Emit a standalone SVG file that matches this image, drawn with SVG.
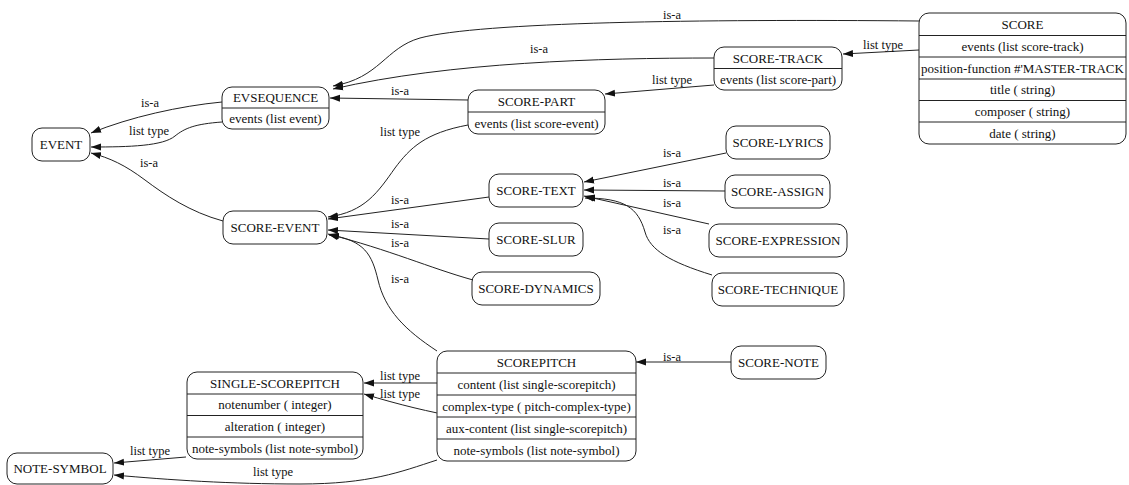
<svg xmlns="http://www.w3.org/2000/svg" width="1129" height="485" viewBox="0 0 1129 485">
  <style>
    .box { fill: #fff; stroke: #222; stroke-width: 1; }
    .sep { stroke: #222; stroke-width: 1; }
    .t { font-family: "Liberation Serif", "Times New Roman", serif; font-size: 13px; fill: #111; text-anchor: middle; }
    .lbl { font-family: "Liberation Serif", "Times New Roman", serif; font-size: 12.5px; fill: #111; text-anchor: middle; }
    .e { fill: none; stroke: #222; stroke-width: 1; marker-end: url(#arrow); }
  </style>
  <defs>
    <marker id="arrow" markerUnits="userSpaceOnUse" markerWidth="10" markerHeight="8" refX="10" refY="4" orient="auto">
      <path d="M0,0.5 L10,4 L0,7.5 z" fill="#111"/>
    </marker>
  </defs>
  <rect width="1129" height="485" fill="#fff"/>

  <!-- connectors -->
  <g id="edges">
    <path class="e" d="M919,21 C700,19 480,22 420,38 C385,48 380,78 333,86"/>
    <text class="lbl" x="672" y="19">is-a</text>

    <path class="e" d="M714,58 C600,58 450,62 333,89"/>
    <text class="lbl" x="539" y="53">is-a</text>

    <path class="e" d="M919,50 L843,54"/>
    <text class="lbl" x="883" y="49">list type</text>

    <path class="e" d="M714,85 L605,94"/>
    <text class="lbl" x="672" y="84">list type</text>

    <path class="e" d="M468,100 L330,98"/>
    <text class="lbl" x="400" y="95">is-a</text>

    <path class="e" d="M222,102 C180,106 130,117 91,133"/>
    <text class="lbl" x="150" y="107">is-a</text>

    <path class="e" d="M222,122 C195,124 185,128 175,136 C163,146 130,147 91,147"/>
    <text class="lbl" x="149" y="135">list type</text>

    <path class="e" d="M223,221 C190,212 165,195 145,180 C125,165 110,158 91,153"/>
    <text class="lbl" x="149" y="167">is-a</text>

    <path class="e" d="M468,125 C425,133 410,148 395,168 C378,192 365,212 328,217"/>
    <text class="lbl" x="400" y="136">list type</text>

    <path class="e" d="M489,197 L328,219"/>
    <text class="lbl" x="400" y="204">is-a</text>

    <path class="e" d="M489,239 L328,230"/>
    <text class="lbl" x="400" y="228">is-a</text>

    <path class="e" d="M473,280 C430,268 390,250 328,234"/>
    <text class="lbl" x="400" y="247">is-a</text>

    <path class="e" d="M437,351 C405,330 385,310 378,280 C372,255 365,240 329,235"/>
    <text class="lbl" x="400" y="283">is-a</text>

    <path class="e" d="M726,153 L584,182"/>
    <text class="lbl" x="672" y="157">is-a</text>

    <path class="e" d="M725,191 L584,190"/>
    <text class="lbl" x="672" y="187">is-a</text>

    <path class="e" d="M709,224 L584,196"/>
    <text class="lbl" x="672" y="207">is-a</text>

    <path class="e" d="M712,275 C670,262 650,250 645,232 C638,208 625,198 585,198"/>
    <text class="lbl" x="672" y="234">is-a</text>

    <path class="e" d="M731,362 L636,362"/>
    <text class="lbl" x="672" y="361">is-a</text>

    <path class="e" d="M437,383 L364,383"/>
    <text class="lbl" x="400" y="380">list type</text>

    <path class="e" d="M458,417 C430,412 400,405 364,394"/>
    <text class="lbl" x="400" y="398">list type</text>

    <path class="e" d="M186,457 L114,463"/>
    <text class="lbl" x="150" y="455">list type</text>

    <path class="e" d="M437,460 C400,472 370,484 300,484 C230,484 170,480 114,475"/>
    <text class="lbl" x="273" y="476">list type</text>
  </g>

  <!-- nodes -->
  <g id="SCORE">
    <rect class="box" x="919" y="13" width="207" height="131" rx="10"/>
    <line class="sep" x1="919" y1="35.5" x2="1126" y2="35.5"/>
    <line class="sep" x1="919" y1="57" x2="1126" y2="57"/>
    <line class="sep" x1="919" y1="79" x2="1126" y2="79"/>
    <line class="sep" x1="919" y1="100.5" x2="1126" y2="100.5"/>
    <line class="sep" x1="919" y1="122" x2="1126" y2="122"/>
    <text class="t" x="1022.5" y="29">SCORE</text>
    <text class="t" x="1022.5" y="51">events (list score-track)</text>
    <text class="t" x="1022.5" y="72.5">position-function #'MASTER-TRACK</text>
    <text class="t" x="1022.5" y="94">title ( string)</text>
    <text class="t" x="1022.5" y="116">composer ( string)</text>
    <text class="t" x="1022.5" y="137.5">date ( string)</text>
  </g>

  <g id="SCORE-TRACK">
    <rect class="box" x="714" y="47" width="128" height="43" rx="10"/>
    <line class="sep" x1="714" y1="68.5" x2="842" y2="68.5"/>
    <text class="t" x="778" y="62.5">SCORE-TRACK</text>
    <text class="t" x="778" y="84">events (list score-part)</text>
  </g>

  <g id="SCORE-PART">
    <rect class="box" x="468" y="90" width="137" height="44" rx="10"/>
    <line class="sep" x1="468" y1="112" x2="605" y2="112"/>
    <text class="t" x="536.5" y="105.5">SCORE-PART</text>
    <text class="t" x="536.5" y="127.5">events (list score-event)</text>
  </g>

  <g id="EVSEQUENCE">
    <rect class="box" x="222" y="87" width="107" height="42" rx="10"/>
    <line class="sep" x1="222" y1="108" x2="329" y2="108"/>
    <text class="t" x="275.5" y="102">EVSEQUENCE</text>
    <text class="t" x="275.5" y="123">events (list event)</text>
  </g>

  <g id="EVENT">
    <rect class="box" x="32" y="128" width="58" height="33" rx="10"/>
    <text class="t" x="61" y="149">EVENT</text>
  </g>

  <g id="SCORE-EVENT">
    <rect class="box" x="223" y="211" width="104" height="33" rx="10"/>
    <text class="t" x="275" y="232">SCORE-EVENT</text>
  </g>

  <g id="SCORE-TEXT">
    <rect class="box" x="489" y="174" width="94" height="33" rx="10"/>
    <text class="t" x="536" y="195">SCORE-TEXT</text>
  </g>

  <g id="SCORE-SLUR">
    <rect class="box" x="489" y="223" width="94" height="33" rx="10"/>
    <text class="t" x="536" y="244">SCORE-SLUR</text>
  </g>

  <g id="SCORE-DYNAMICS">
    <rect class="box" x="472" y="272" width="128" height="33" rx="10"/>
    <text class="t" x="536" y="293">SCORE-DYNAMICS</text>
  </g>

  <g id="SCORE-LYRICS">
    <rect class="box" x="726" y="126" width="104" height="33" rx="10"/>
    <text class="t" x="778" y="147">SCORE-LYRICS</text>
  </g>

  <g id="SCORE-ASSIGN">
    <rect class="box" x="725" y="175" width="105" height="33" rx="10"/>
    <text class="t" x="777.5" y="196">SCORE-ASSIGN</text>
  </g>

  <g id="SCORE-EXPRESSION">
    <rect class="box" x="709" y="224" width="138" height="33" rx="10"/>
    <text class="t" x="778" y="245">SCORE-EXPRESSION</text>
  </g>

  <g id="SCORE-TECHNIQUE">
    <rect class="box" x="712" y="273" width="132" height="33" rx="10"/>
    <text class="t" x="778" y="294">SCORE-TECHNIQUE</text>
  </g>

  <g id="SCORE-NOTE">
    <rect class="box" x="731" y="346" width="95" height="33" rx="10"/>
    <text class="t" x="778.5" y="367">SCORE-NOTE</text>
  </g>

  <g id="SCOREPITCH">
    <rect class="box" x="437" y="351" width="199" height="110" rx="10"/>
    <line class="sep" x1="437" y1="373" x2="636" y2="373"/>
    <line class="sep" x1="437" y1="395" x2="636" y2="395"/>
    <line class="sep" x1="437" y1="417" x2="636" y2="417"/>
    <line class="sep" x1="437" y1="439" x2="636" y2="439"/>
    <text class="t" x="536.5" y="366.5">SCOREPITCH</text>
    <text class="t" x="536.5" y="388.5">content (list single-scorepitch)</text>
    <text class="t" x="536.5" y="410.5">complex-type ( pitch-complex-type)</text>
    <text class="t" x="536.5" y="432.5">aux-content (list single-scorepitch)</text>
    <text class="t" x="536.5" y="454.5">note-symbols (list note-symbol)</text>
  </g>

  <g id="SINGLE-SCOREPITCH">
    <rect class="box" x="187" y="372" width="176" height="87" rx="10"/>
    <line class="sep" x1="187" y1="394" x2="363" y2="394"/>
    <line class="sep" x1="187" y1="415.5" x2="363" y2="415.5"/>
    <line class="sep" x1="187" y1="437" x2="363" y2="437"/>
    <text class="t" x="275" y="387.5">SINGLE-SCOREPITCH</text>
    <text class="t" x="275" y="409">notenumber ( integer)</text>
    <text class="t" x="275" y="430.5">alteration ( integer)</text>
    <text class="t" x="275" y="452.5">note-symbols (list note-symbol)</text>
  </g>

  <g id="NOTE-SYMBOL">
    <rect class="box" x="7" y="453" width="106" height="31" rx="10"/>
    <text class="t" x="60" y="473">NOTE-SYMBOL</text>
  </g>
</svg>
